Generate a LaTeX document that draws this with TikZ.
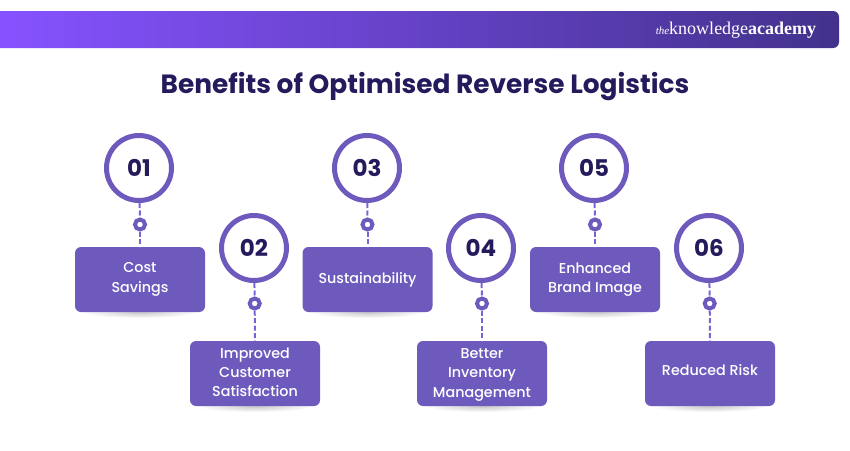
\documentclass[tikz,border=0pt]{standalone}
\usepackage{fontspec}
\setmainfont{Poppins}
\newfontfamily\logofont{Liberation Serif}
\newfontfamily\labelfont{Poppins Medium}
\usetikzlibrary{positioning}
\definecolor{barleft}{HTML}{8652FF}
\definecolor{barmid}{HTML}{6443C4}
\definecolor{barright}{HTML}{43328C}
\definecolor{boxpurple}{HTML}{6E5ABD}
\definecolor{dashpurple}{HTML}{7C62D8}
\definecolor{titleink}{HTML}{231B5B}
\tikzset{
  numcircle/.style={draw=boxpurple, line width=5pt, fill=white, circle, minimum size=65pt, inner sep=0pt, text=titleink, font=\fontsize{23}{23}\selectfont\bfseries},
  linkdot/.style={draw=boxpurple, line width=4pt, fill=white, circle, minimum size=10pt, inner sep=0pt},
  benefit/.style={fill=boxpurple, rounded corners=6pt, minimum width=130pt, minimum height=65pt, inner sep=0pt, text=white, align=center, font=\labelfont\fontsize{14.3}{19.6}\selectfont},
  linkline/.style={draw=dashpurple, line width=2pt, dashed, dash pattern=on 5pt off 2.5pt},
  softshadow/.style={inner color=black!22, outer color=white}
}

\begin{document}
\begin{tikzpicture}[x=1pt,y=-1pt]

\useasboundingbox (0,0) rectangle (850,450);

\shade[left color=barleft, middle color=barmid, right color=barright] (0,11) [rounded corners=6pt] -- (839,11) -- (839,48) [sharp corners] -- (0,48) -- cycle;

\node[text=white, font=\logofont\fontsize{18}{18}\selectfont] (logo) at (736,30) {{\fontsize{11}{11}\selectfont\itshape the}knowledge\textbf{academy}};

\node[text=titleink, font=\fontsize{26.4}{26.4}\selectfont\bfseries] (title) at (425,87) {Benefits of Optimised Reverse Logistics};

\shade[softshadow] (140,312) ellipse (58 and 6);
\shade[softshadow] (255,406) ellipse (58 and 6);
\shade[softshadow] (367,312) ellipse (58 and 6);
\shade[softshadow] (482,406) ellipse (58 and 6);
\shade[softshadow] (595,312) ellipse (58 and 6);
\shade[softshadow] (710,406) ellipse (58 and 6);

\node[numcircle] (A) at (139,168) {01};
\node[numcircle] (B) at (254,248) {02};
\node[numcircle] (C) at (367,168) {03};
\node[numcircle] (D) at (481,248) {04};
\node[numcircle] (E) at (594,168) {05};
\node[numcircle] (F) at (709,248) {06};

\node[linkdot] (A1) at (140,224.5) {};
\node[linkdot] (B1) at (254.7,303.5) {};
\node[linkdot] (C1) at (367.5,224.5) {};
\node[linkdot] (D1) at (482,303.5) {};
\node[linkdot] (E1) at (595,224.5) {};
\node[linkdot] (F1) at (709.7,303.5) {};

\node[benefit] (A2) at (140,279.5) {Cost\\Savings};
\node[benefit] (B2) at (255,373.5) {Improved\\[-0.6pt]Customer\\[-0.6pt]Satisfaction\rule[-2pt]{0pt}{1pt}};
\node[benefit] (C2) at (367.5,279.5) {Sustainability};
\node[benefit] (D2) at (482,373.5) {\rule{0pt}{12.5pt}Better\\Inventory\\Management};
\node[benefit] (E2) at (595,279.5) {Enhanced\\Brand Image};
\node[benefit] (F2) at (710,373.5) {Reduced Risk\rule[-7.5pt]{0pt}{1pt}};

\draw[linkline] (A) -- (A1);
\draw[linkline] (A1) -- (A2);

\draw[linkline] (B) -- (B1);
\draw[linkline] (B1) -- (B2);

\draw[linkline] (C) -- (C1);
\draw[linkline] (C1) -- (C2);

\draw[linkline] (D) -- (D1);
\draw[linkline] (D1) -- (D2);

\draw[linkline] (E) -- (E1);
\draw[linkline] (E1) -- (E2);

\draw[linkline] (F) -- (F1);
\draw[linkline] (F1) -- (F2);

\end{tikzpicture}
\end{document}
